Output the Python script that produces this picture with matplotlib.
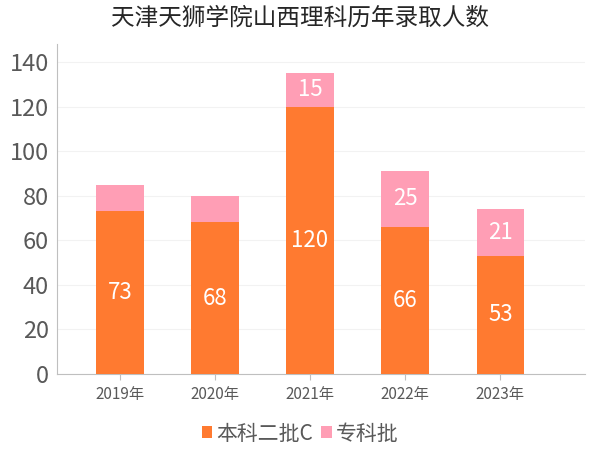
import matplotlib
matplotlib.use('Agg')
import matplotlib.pyplot as plt
import numpy as np

plt.rcParams['font.family'] = ['Noto Sans CJK SC', 'DejaVu Sans']

years = ['2019年', '2020年', '2021年', '2022年', '2023年']
benke = [73, 68, 120, 66, 53]       # 本科二批C
zhuanke = [12, 12, 15, 25, 21]      # 专科批
zhuanke_labels = ['', '', '15', '25', '21']

c_orange = '#FF7A30'
c_pink = '#FF9EB5'
grey = '#595959'

fig = plt.figure(figsize=(6, 4.5), dpi=100)
ax = fig.add_axes([0.095, 0.169, 0.88, 0.733])

x = np.arange(len(years))
b1 = ax.bar(x, benke, width=0.5, color=c_orange, label='本科二批C', zorder=3)
b2 = ax.bar(x, zhuanke, width=0.5, bottom=benke, color=c_pink, label='专科批', zorder=3)

ax.bar_label(b1, labels=[str(v) for v in benke], label_type='center',
             color='white', fontsize=16)
ax.bar_label(b2, labels=zhuanke_labels, label_type='center',
             color='white', fontsize=16)

ax.set_xlim(-0.66, 4.89)
ax.set_ylim(0, 148)
ax.set_yticks(range(0, 141, 20))
ax.set_xticks(x)
ax.set_xticklabels(years, fontsize=11, color=grey)
ax.tick_params(axis='y', length=0, labelsize=17, labelcolor=grey, pad=6)
ax.tick_params(axis='x', length=4, color='#bfbfbf', pad=5)

ax.grid(axis='y', color='#f2f2f2', linewidth=0.8, zorder=0)
for s in ['top', 'right']:
    ax.spines[s].set_visible(False)
ax.spines['left'].set_color('#bfbfbf')
ax.spines['bottom'].set_color('#bfbfbf')

fig.suptitle('天津天狮学院山西理科历年录取人数', fontsize=17, color='#262626', y=0.985)

fig.legend(loc='lower center', bbox_to_anchor=(0.5, -0.03), ncol=2, frameon=False,
           fontsize=15, labelcolor=grey, handlelength=0.5, handleheight=0.5,
           handletextpad=0.2, columnspacing=0.4)

fig.savefig('out.png')
